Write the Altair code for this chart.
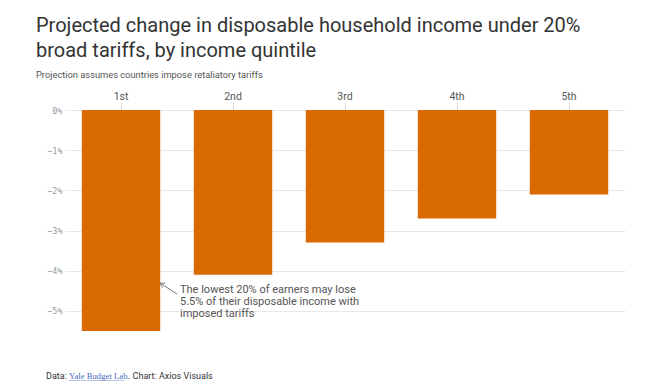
import altair as alt
import pandas as pd

quintiles = ["1st", "2nd", "3rd", "4th", "5th"]
changes = [-5.5, -4.1, -3.3, -2.7, -2.1]
y_ticks = [0, -1, -2, -3, -4, -5]

title_lines = ["Projected change in disposable household income under 20%",
               "broad tariffs, by income quintile"]
subtitle = "Projection assumes countries impose retaliatory tariffs"
note_lines = ["The lowest 20% of earners may lose",
              "5.5% of their disposable income with",
              "imposed tariffs"]

df = pd.DataFrame({"q": quintiles, "v": changes})

FONT = "Roboto"
ORANGE = "#d96a00"

bars = alt.Chart(df).mark_bar(color=ORANGE).encode(
    x=alt.X("q:N", sort=quintiles,
            scale=alt.Scale(paddingInner=0.3, paddingOuter=0.15),
            axis=alt.Axis(orient="top", title=None, labelAngle=0, domain=False,
                          ticks=True, tickSize=8, tickColor="#d8d8d8",
                          labelFont=FONT, labelFontSize=10.5, labelColor="#555",
                          labelPadding=1)),
    y=alt.Y("v:Q", scale=alt.Scale(domain=[-5.5, 0], nice=False),
            axis=alt.Axis(title=None, values=y_ticks, domain=False, ticks=False,
                          labelExpr="datum.value == 0 ? '0%' : '\u2212' + abs(datum.value) + '%'",
                          labelFont="DejaVu Sans Mono", labelFontSize=8.5,
                          labelColor="#999", labelPadding=3,
                          grid=True, gridColor="#e8e8e8")),
)

def txt(text, x, y, size, color, font=FONT, **kw):
    return alt.Chart(df.head(1)).mark_text(
        text=text, font=font, fontSize=size, color=color, align="left",
        baseline="alphabetic", **kw
    ).encode(x=alt.value(x), y=alt.value(y))

title1 = txt(title_lines[0], -29, -78, 20, "#333")
title2 = txt(title_lines[1], -29, -53, 20, "#333")
sub = txt(subtitle, -29, -32, 9.3, "#555")
note = txt(note_lines, 115, 183, 11, "#555", lineHeight=12)

arrow = alt.Chart(df.head(1)).mark_rule(color="#777", strokeWidth=1).encode(
    x=alt.value(95), y=alt.value(173), x2=alt.value(112), y2=alt.value(184))
head1 = alt.Chart(df.head(1)).mark_rule(color="#777", strokeWidth=1).encode(
    x=alt.value(95), y=alt.value(173), x2=alt.value(97.5), y2=alt.value(177.5))
head2 = alt.Chart(df.head(1)).mark_rule(color="#777", strokeWidth=1).encode(
    x=alt.value(95), y=alt.value(173), x2=alt.value(100.2), y2=alt.value(173.3))

foot1 = txt("Data:", -19, 269, 9, "#333")
foot2 = txt("Yale Budget Lab", 4, 269, 8.7, "#4a6cc0", font="Liberation Serif")
foot_ul = alt.Chart(df.head(1)).mark_rule(color="#4a6cc0", strokeWidth=0.8).encode(
    x=alt.value(4), x2=alt.value(59), y=alt.value(271), y2=alt.value(271))
foot3 = txt(". Chart: Axios Visuals", 63, 269, 9, "#333")

chart = alt.layer(bars, title1, title2, sub, arrow, head1, head2, note,
                  foot1, foot2, foot_ul, foot3).properties(
    width=560, height=221,
    background="white",
    autosize=alt.AutoSizeParams(type="none"),
    padding={"left": 57, "top": 102, "right": 20, "bottom": 50},
).configure_view(strokeWidth=0)

chart.save("out.html", embed_options={"renderer": "svg", "actions": False})
